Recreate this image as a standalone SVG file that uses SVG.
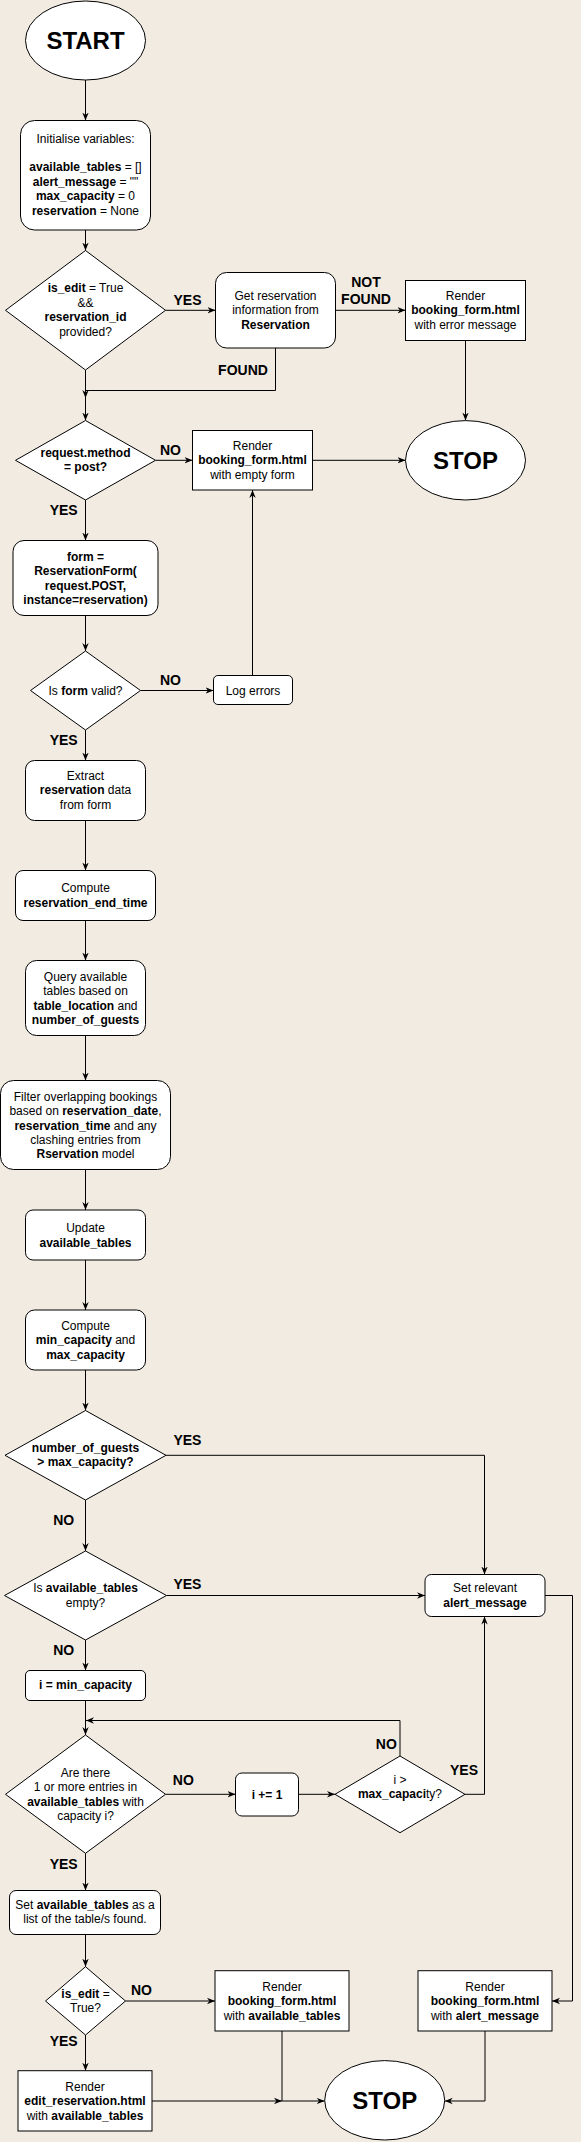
<svg xmlns="http://www.w3.org/2000/svg" width="581" height="2142" viewBox="0 0 581 2142">
<defs>
<marker id="arr" viewBox="0 0 10 10" refX="10" refY="5" markerWidth="8" markerHeight="8" markerUnits="userSpaceOnUse" orient="auto">
<path d="M0,1 L10,5 L0,9 L3,5 z" fill="#000"/>
</marker>
<style>
text{font-family:"Liberation Sans",Arial,Helvetica,sans-serif;font-size:12px;fill:#000;text-anchor:middle}
.b{font-weight:bold}
.lbl{font-weight:bold;font-size:14px}
.big{font-weight:bold;font-size:24px}
.n{fill:#fff;stroke:#000;stroke-width:1}
.e{fill:none;stroke:#000;stroke-width:1;marker-end:url(#arr)}
.l{fill:none;stroke:#000;stroke-width:1}
</style>
</defs>
<rect x="0" y="0" width="581" height="2142" fill="#F2EBE2"/>

<g id="connectors">
<path class="e" d="M85.5,80 L85.5,120.5"/>
<path class="e" d="M85.5,230 L85.5,250.5"/>
<path class="e" d="M165.5,310.3 L215.5,310.3"/>
<path class="e" d="M335.5,310.3 L405.5,310.3"/>
<path class="e" d="M275.5,348 L275.5,390.5 L85.5,390.5 L85.5,398"/>
<path class="e" d="M85.5,370 L85.5,420.5"/>
<path class="e" d="M465.5,340.5 L465.5,420.5"/>
<path class="e" d="M155.5,460.3 L192.5,460.3"/>
<path class="e" d="M312.5,460.3 L405.5,460.3"/>
<path class="e" d="M85.5,500 L85.5,540.5"/>
<path class="e" d="M85.5,615.5 L85.5,651"/>
<path class="e" d="M140.5,690.5 L213.5,690.5"/>
<path class="e" d="M252.5,675.5 L252.5,490"/>
<path class="e" d="M85.5,730 L85.5,760.5"/>
<path class="e" d="M85.5,820.5 L85.5,870.5"/>
<path class="e" d="M85.5,920.5 L85.5,960.5"/>
<path class="e" d="M85.5,1035.5 L85.5,1080.5"/>
<path class="e" d="M85.5,1169.5 L85.5,1210"/>
<path class="e" d="M85.5,1260 L85.5,1310"/>
<path class="e" d="M85.5,1370 L85.5,1410.5"/>
<path class="e" d="M166,1455.3 L484.5,1455.3 L484.5,1574.5"/>
<path class="e" d="M85.5,1500 L85.5,1551"/>
<path class="e" d="M166.5,1595.5 L425,1595.5"/>
<path class="e" d="M85.5,1640 L85.5,1670.5"/>
<path class="e" d="M85.5,1700.5 L85.5,1735"/>
<path class="e" d="M165.5,1794.3 L235.5,1794.3"/>
<path class="e" d="M298.5,1794.3 L335,1794.3"/>
<path class="e" d="M400,1756 L400,1720.5 L86,1720.5"/>
<path class="e" d="M465,1794.3 L484.5,1794.3 L484.5,1616.5"/>
<path class="e" d="M545,1595.5 L572.5,1595.5 L572.5,2001 L552,2001"/>
<path class="e" d="M85.5,1853.3 L85.5,1890.5"/>
<path class="e" d="M85.5,1934.5 L85.5,1966.7"/>
<path class="e" d="M125.5,2001 L215,2001"/>
<path class="e" d="M85.5,2035 L85.5,2070.7"/>
<path class="e" d="M152,2101 L282,2101"/>
<path class="e" d="M282,2031 L282,2101 L324.7,2101"/>
<path class="e" d="M485,2031 L485,2101 L444.7,2101"/>
<text class="lbl" x="187.5" y="305">YES</text>
<text class="lbl" x="366" y="287.3">NOT</text>
<text class="lbl" x="366" y="304">FOUND</text>
<text class="lbl" x="243" y="375">FOUND</text>
<text class="lbl" x="170.4" y="455">NO</text>
<text class="lbl" x="63.7" y="515">YES</text>
<text class="lbl" x="170.4" y="685">NO</text>
<text class="lbl" x="63.7" y="745">YES</text>
<text class="lbl" x="187.4" y="1445">YES</text>
<text class="lbl" x="63.7" y="1525">NO</text>
<text class="lbl" x="187.4" y="1589">YES</text>
<text class="lbl" x="63.7" y="1655">NO</text>
<text class="lbl" x="183.3" y="1785">NO</text>
<text class="lbl" x="386.3" y="1749.3">NO</text>
<text class="lbl" x="464" y="1775">YES</text>
<text class="lbl" x="63.7" y="1869">YES</text>
<text class="lbl" x="141.5" y="1995">NO</text>
<text class="lbl" x="63.7" y="2045.7">YES</text>
</g>

<g id="start">
<ellipse class="n" cx="85.5" cy="40.5" rx="60" ry="39.5"/>
<text class="big" x="85.5" y="49">START</text>
</g>

<g id="init">
<rect class="n" x="20.5" y="120.5" width="130" height="109.5" rx="14"/>
<text x="85.5" y="142.5">Initialise variables:</text>
<text x="85.5" y="171.3"><tspan class="b">available_tables</tspan> = []</text>
<text x="85.5" y="185.7"><tspan class="b">alert_message</tspan> = ""</text>
<text x="85.5" y="200.1"><tspan class="b">max_capacity</tspan> = 0</text>
<text x="85.5" y="214.5"><tspan class="b">reservation</tspan> = None</text>
</g>

<g id="d-is-edit">
<polygon class="n" points="85.5,250.5 165.5,310.3 85.5,370 5.5,310.3"/>
<text x="85.5" y="292.3"><tspan class="b">is_edit</tspan> = True</text>
<text x="85.5" y="306.7">&amp;&amp;</text>
<text x="85.5" y="321.1" class="b">reservation_id</text>
<text x="85.5" y="335.5">provided?</text>
</g>

<g id="get-reservation">
<rect class="n" x="215.5" y="272.5" width="120" height="75.5" rx="11"/>
<text x="275.5" y="299.7">Get reservation</text>
<text x="275.5" y="314.1">information from</text>
<text x="275.5" y="328.5" class="b">Reservation</text>
</g>

<g id="render-error">
<rect class="n" x="405.5" y="280.5" width="120" height="60"/>
<text x="465.5" y="299.7">Render</text>
<text x="465.5" y="314.1" class="b">booking_form.html</text>
<text x="465.5" y="328.5">with error message</text>
</g>

<g id="d-post">
<polygon class="n" points="85.5,420.5 155.5,460.3 85.5,500 15.5,460.3"/>
<text x="85.5" y="456.7" class="b">request.method</text>
<text x="85.5" y="471.1" class="b">= post?</text>
</g>

<g id="render-empty">
<rect class="n" x="192.5" y="430.5" width="120" height="59.5"/>
<text x="252.5" y="450">Render</text>
<text x="252.5" y="464.4" class="b">booking_form.html</text>
<text x="252.5" y="478.8">with empty form</text>
</g>

<g id="stop1">
<ellipse class="n" cx="465.5" cy="460.3" rx="60" ry="39.7"/>
<text class="big" x="465.5" y="468.8">STOP</text>
</g>

<g id="form">
<rect class="n" x="13" y="540.5" width="145" height="75" rx="11"/>
<text x="85.5" y="560.7" class="b">form =</text>
<text x="85.5" y="575.1" class="b">ReservationForm(</text>
<text x="85.5" y="589.5" class="b">request.POST,</text>
<text x="85.5" y="603.9" class="b">instance=reservation)</text>
</g>

<g id="d-valid">
<polygon class="n" points="85.5,651 140.5,690.5 85.5,730 30.5,690.5"/>
<text x="85.5" y="694.5">Is <tspan class="b">form</tspan> valid?</text>
</g>

<g id="log-errors">
<rect class="n" x="213.5" y="675.5" width="79" height="29" rx="4.4"/>
<text x="253" y="694.5">Log errors</text>
</g>

<g id="extract">
<rect class="n" x="25.5" y="760.5" width="120" height="60" rx="9"/>
<text x="85.5" y="779.7">Extract</text>
<text x="85.5" y="794.1"><tspan class="b">reservation</tspan> data</text>
<text x="85.5" y="808.5">from form</text>
</g>

<g id="compute-end">
<rect class="n" x="15.5" y="870.5" width="140" height="50" rx="7.5"/>
<text x="85.5" y="892.3">Compute</text>
<text x="85.5" y="906.7" class="b">reservation_end_time</text>
</g>

<g id="query">
<rect class="n" x="25.5" y="960.5" width="120" height="75" rx="11"/>
<text x="85.5" y="980.7">Query available</text>
<text x="85.5" y="995.1">tables based on</text>
<text x="85.5" y="1009.5"><tspan class="b">table_location</tspan> and</text>
<text x="85.5" y="1023.9" class="b">number_of_guests</text>
</g>

<g id="filter">
<rect class="n" x="0.5" y="1080.5" width="170" height="89" rx="13"/>
<text x="85.5" y="1100.7">Filter overlapping bookings</text>
<text x="85.5" y="1115.1">based on <tspan class="b">reservation_date</tspan>,</text>
<text x="85.5" y="1129.5"><tspan class="b">reservation_time</tspan> and any</text>
<text x="85.5" y="1143.9">clashing entries from</text>
<text x="85.5" y="1158.3"><tspan class="b">Rservation</tspan> model</text>
</g>

<g id="update">
<rect class="n" x="25.5" y="1210" width="120" height="50" rx="7.5"/>
<text x="85.5" y="1232.2">Update</text>
<text x="85.5" y="1246.6" class="b">available_tables</text>
</g>

<g id="compute-cap">
<rect class="n" x="25.5" y="1310" width="120" height="60" rx="9"/>
<text x="85.5" y="1329.7">Compute</text>
<text x="85.5" y="1344.1"><tspan class="b">min_capacity</tspan> and</text>
<text x="85.5" y="1358.5" class="b">max_capacity</text>
</g>

<g id="d-guests">
<polygon class="n" points="85.5,1410.5 166,1455.3 85.5,1500 5,1455.3"/>
<text x="85.5" y="1452" class="b">number_of_guests</text>
<text x="85.5" y="1466.4" class="b">&gt; max_capacity?</text>
</g>

<g id="d-empty">
<polygon class="n" points="85.5,1551 166.5,1595.5 85.5,1640 4.5,1595.5"/>
<text x="85.5" y="1592.3">Is <tspan class="b">available_tables</tspan></text>
<text x="85.5" y="1606.7">empty?</text>
</g>

<g id="alert">
<rect class="n" x="425" y="1574.5" width="120" height="42" rx="6.3"/>
<text x="485" y="1592.3">Set relevant</text>
<text x="485" y="1606.7" class="b">alert_message</text>
</g>

<g id="i-min">
<rect class="n" x="25.5" y="1670.5" width="120" height="30" rx="4.5"/>
<text x="85.5" y="1689.3" class="b">i = min_capacity</text>
</g>

<g id="d-entries">
<polygon class="n" points="85.5,1735 165.5,1794.3 85.5,1853.3 5.5,1794.3"/>
<text x="85.5" y="1776.7">Are there</text>
<text x="85.5" y="1791.1">1 or more entries in</text>
<text x="85.5" y="1805.5"><tspan class="b">available_tables</tspan> with</text>
<text x="85.5" y="1819.9">capacity i?</text>
</g>

<g id="i-inc">
<rect class="n" x="235.5" y="1773" width="63" height="43" rx="6.4"/>
<text x="267" y="1798.5" class="b">i += 1</text>
</g>

<g id="d-max">
<polygon class="n" points="400,1756 465,1794.3 400,1832.7 335,1794.3"/>
<text x="400" y="1784">i &gt;</text>
<text x="400" y="1798.4"><tspan class="b">max_capaci</tspan>ty?</text>
</g>

<g id="set-available">
<rect class="n" x="9.5" y="1890.5" width="151" height="44" rx="6.6"/>
<text x="85" y="1909">Set <tspan class="b">available_tables</tspan> as a</text>
<text x="85" y="1923.4">list of the table/s found.</text>
</g>

<g id="d-edit">
<polygon class="n" points="85.5,1966.7 125.5,2001 85.5,2035 45.5,2001"/>
<text x="85.5" y="1998"><tspan class="b">is_edit</tspan> =</text>
<text x="85.5" y="2012.4">True?</text>
</g>

<g id="render-available">
<rect class="n" x="215" y="1970.7" width="134" height="60.3"/>
<text x="282" y="1990.7">Render</text>
<text x="282" y="2005.1" class="b">booking_form.html</text>
<text x="282" y="2019.5">with <tspan class="b">available_tables</tspan></text>
</g>

<g id="render-alert">
<rect class="n" x="418" y="1970.7" width="134" height="60.3"/>
<text x="485" y="1990.7">Render</text>
<text x="485" y="2005.1" class="b">booking_form.html</text>
<text x="485" y="2019.5">with <tspan class="b">alert_message</tspan></text>
</g>

<g id="render-edit">
<rect class="n" x="18" y="2070.7" width="134" height="60.3"/>
<text x="85" y="2090.7">Render</text>
<text x="85" y="2105.1" class="b">edit_reservation.html</text>
<text x="85" y="2119.5">with <tspan class="b">available_tables</tspan></text>
</g>

<g id="stop2">
<ellipse class="n" cx="384.7" cy="2100.3" rx="60" ry="39.7"/>
<text class="big" x="384.7" y="2108.8">STOP</text>
</g>
</svg>
